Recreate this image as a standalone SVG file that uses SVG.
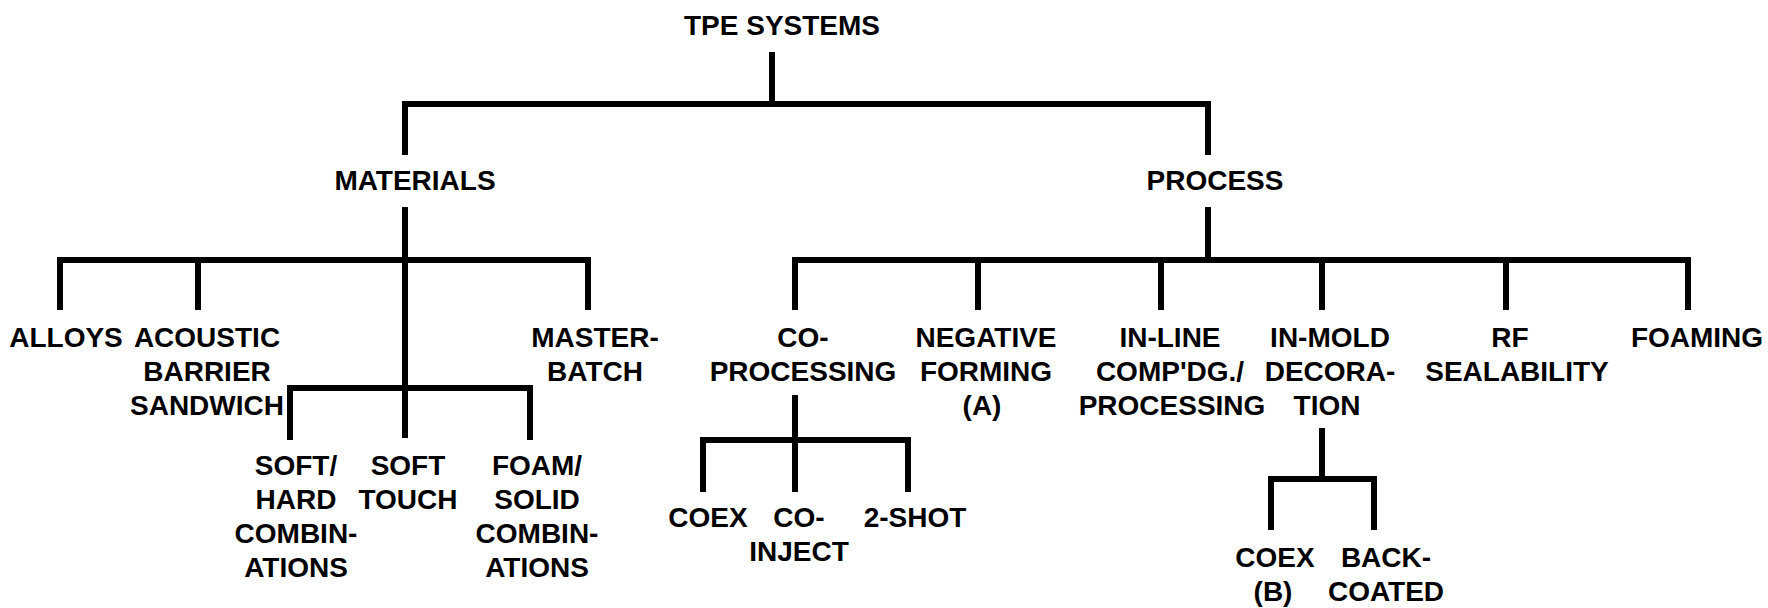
<svg xmlns="http://www.w3.org/2000/svg" width="1768" height="608" viewBox="0 0 1768 608">
<style>
text{font-family:"Liberation Sans",Arial,sans-serif;font-weight:bold;font-size:28px;fill:#000;text-anchor:middle}
.c{fill:none;stroke:#000;stroke-width:6;stroke-linejoin:miter;stroke-linecap:butt}
</style>
<rect width="1768" height="608" fill="#fff"/>
<g id="connectors">
<path class="c" d="M772,52 V104"/>
<path class="c" d="M405,155 V104 H1208 V155"/>
<path class="c" d="M405,207 V388"/>
<path class="c" d="M60,310 V260 H588 V310"/>
<path class="c" d="M198,260 V310"/>
<path class="c" d="M290,440 V388 H530 V440"/>
<path class="c" d="M405,388 V438"/>
<path class="c" d="M1208,207 V260"/>
<path class="c" d="M795,310 V260 H1688 V310"/>
<path class="c" d="M978,260 V310 M1161,260 V310 M1322,260 V310 M1506,260 V310"/>
<path class="c" d="M795,395 V492"/>
<path class="c" d="M703,492 V440 H908 V492"/>
<path class="c" d="M1322,428 V479"/>
<path class="c" d="M1271,530 V479 H1374 V530"/>
</g>
<g id="tpe-systems"><text x="782" y="35">TPE SYSTEMS</text></g>
<g id="materials"><text x="415" y="190">MATERIALS</text></g>
<g id="process"><text x="1215" y="190">PROCESS</text></g>
<g id="alloys"><text x="66" y="347">ALLOYS</text></g>
<g id="acoustic"><text x="207" y="347">ACOUSTIC</text><text x="207" y="381">BARRIER</text><text x="207" y="415">SANDWICH</text></g>
<g id="masterbatch"><text x="595" y="347">MASTER-</text><text x="595" y="381">BATCH</text></g>
<g id="soft-hard"><text x="296" y="475">SOFT/</text><text x="296" y="509">HARD</text><text x="296" y="543">COMBIN-</text><text x="296" y="577">ATIONS</text></g>
<g id="soft-touch"><text x="408" y="475">SOFT</text><text x="408" y="509">TOUCH</text></g>
<g id="foam-solid"><text x="537" y="475">FOAM/</text><text x="537" y="509">SOLID</text><text x="537" y="543">COMBIN-</text><text x="537" y="577">ATIONS</text></g>
<g id="co-processing"><text x="803" y="347">CO-</text><text x="803" y="381">PROCESSING</text></g>
<g id="coex1"><text x="708" y="527">COEX</text></g>
<g id="co-inject"><text x="799" y="527">CO-</text><text x="799" y="561">INJECT</text></g>
<g id="two-shot"><text x="915" y="527">2-SHOT</text></g>
<g id="negative-forming"><text x="986" y="347">NEGATIVE</text><text x="986" y="381">FORMING</text><text x="982" y="415">(A)</text></g>
<g id="in-line"><text x="1170" y="347">IN-LINE</text><text x="1170" y="381">COMP'DG./</text><text x="1172" y="415">PROCESSING</text></g>
<g id="in-mold"><text x="1330" y="347">IN-MOLD</text><text x="1330" y="381">DECORA-</text><text x="1327" y="415">TION</text></g>
<g id="rf"><text x="1510" y="347">RF</text><text x="1517" y="381">SEALABILITY</text></g>
<g id="foaming"><text x="1697" y="347">FOAMING</text></g>
<g id="coex-b"><text x="1275" y="567">COEX</text><text x="1273" y="601">(B)</text></g>
<g id="back-coated"><text x="1386" y="567">BACK-</text><text x="1386" y="601">COATED</text></g>
</svg>
